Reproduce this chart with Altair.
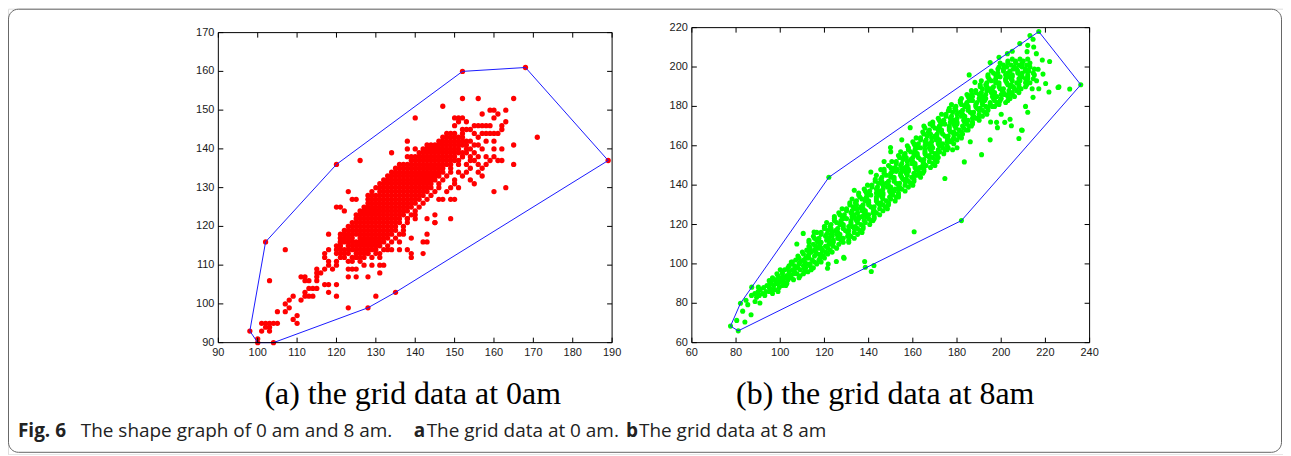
import altair as alt
import pandas as pd

# ---------------- panel (a): grid data at 0 am ----------------
a_ticks_x = [90, 100, 110, 120, 130, 140, 150, 160, 170, 180, 190]
a_ticks_y = [90, 100, 110, 120, 130, 140, 150, 160, 170]

a_core_y = [112, 113, 114, 115, 116, 117, 118, 119, 120, 121, 122, 123, 124, 125, 126, 127,
            128, 129, 130, 131, 132, 133, 134, 135, 136, 137, 138, 139, 140, 141, 142, 143, 144]
a_core_x = [
    [121, 122, 124, 125, 126, 127, 129],
    [120, 121, 122, 123, 125, 126, 127, 128, 130, 131],
    [120, 121, 122, 123, 124, 125, 126, 127, 128, 129, 130, 132],
    [120, 121, 123, 124, 125, 126, 127, 128, 129, 130, 131, 133],
    [121, 122, 123, 124, 125, 126, 127, 128, 129, 130, 131, 132, 134],
    [121, 122, 123, 124, 126, 127, 128, 129, 130, 131, 132, 133, 135],
    [121, 122, 123, 124, 125, 126, 127, 128, 129, 130, 131, 132, 133, 134, 136],
    [122, 123, 124, 125, 126, 127, 128, 129, 130, 131, 132, 133, 134, 135],
    [123, 124, 125, 126, 127, 128, 129, 130, 131, 132, 133, 134, 135, 137],
    [124, 125, 126, 127, 128, 129, 130, 131, 132, 133, 134, 135, 136, 138],
    [125, 126, 127, 128, 129, 130, 131, 132, 133, 134, 135, 136, 138],
    [126, 127, 128, 129, 130, 131, 132, 133, 134, 135, 136, 137, 139, 140],
    [126, 127, 128, 129, 130, 131, 132, 133, 134, 135, 136, 137, 138, 140],
    [127, 128, 129, 130, 131, 132, 133, 134, 135, 136, 137, 138, 139, 141],
    [128, 129, 130, 131, 132, 133, 134, 135, 136, 137, 138, 139, 140, 142],
    [128, 129, 130, 131, 132, 133, 134, 135, 136, 137, 138, 139, 140, 141, 143],
    [129, 130, 131, 132, 133, 134, 135, 136, 137, 138, 139, 140, 141, 142, 144],
    [129, 131, 132, 133, 134, 135, 136, 137, 138, 139, 140, 141, 142, 143, 145],
    [130, 131, 132, 133, 134, 135, 136, 137, 138, 139, 140, 141, 142, 143, 144, 146],
    [131, 132, 133, 134, 135, 136, 137, 138, 139, 140, 141, 142, 143, 144, 146],
    [132, 133, 134, 135, 136, 137, 138, 139, 140, 141, 142, 143, 144, 145, 147],
    [133, 134, 135, 136, 137, 138, 139, 140, 141, 142, 143, 144, 145, 146, 148],
    [134, 135, 136, 137, 138, 139, 140, 141, 142, 143, 144, 145, 146, 147, 149],
    [135, 136, 137, 138, 139, 140, 141, 142, 143, 144, 145, 146, 147, 149],
    [136, 137, 138, 139, 140, 141, 142, 143, 144, 145, 146, 147, 148, 149, 151],
    [139, 140, 141, 142, 143, 144, 145, 146, 147, 148, 149, 150, 151],
    [139, 140, 141, 142, 143, 144, 145, 146, 147, 148, 149, 150, 152],
    [141, 142, 143, 144, 145, 146, 147, 148, 149, 150, 151, 152],
    [142, 143, 144, 145, 146, 147, 148, 149, 150, 151, 153],
    [143, 144, 145, 146, 147, 148, 149, 150, 151, 152, 153, 155],
    [146, 147, 148, 149, 150, 151, 152, 153, 154],
    [147, 148, 149, 150, 151, 152],
    [148, 149, 150, 152],
]
a_extra_x = [98, 100, 104, 101, 102, 103, 104, 105, 101, 103, 100, 102, 103,
             102, 107, 103, 105, 107, 108, 109, 107, 109, 110, 110, 108, 111,
             112, 112, 113, 112, 112, 113, 114, 114, 115, 115, 115, 115,
             117, 118, 118, 117, 118, 118, 117, 118, 118, 119, 120, 120,
             120, 120, 121, 122, 121, 122, 123, 121, 122, 123, 123, 125,
             125, 124, 128, 128, 128, 135, 130, 129, 131, 127, 123,
             111, 113, 115, 116, 117, 121, 123, 124, 125, 126, 128,
             131, 132, 133, 134, 136, 138, 139, 142, 143, 137, 145, 149, 131,
             126, 134, 140, 147, 152, 156, 165, 150, 152, 151, 171, 165, 165, 162, 163, 160,
             157, 159, 160, 161, 163, 163, 162, 160, 158, 155, 154, 156, 159, 160, 161, 157,
             156, 159, 155, 157, 158, 160, 162, 153, 151, 150, 152, 153,
             157, 160, 162, 160, 158, 161, 159, 156, 158, 157, 156, 154, 157, 155, 151, 150,
             155, 154, 156, 158, 154, 153, 154, 153, 152, 150, 149, 148, 147, 149, 150, 146,
             155, 156, 152, 154, 153, 151,
             138, 140, 138, 138, 123, 124, 125, 120, 125,
             138, 140, 143, 145, 145, 137, 139, 143, 142, 139, 136,
             152, 168, 189, 120]
a_extra_y = [93, 90, 90, 95, 95, 95, 95, 95, 93, 93, 91, 94, 94,
             116, 114, 106, 98, 100, 101, 102, 98, 96, 95, 97, 99, 101,
             106, 107, 106, 103, 102, 102, 102, 104, 104, 106, 107, 109,
             105, 103, 105, 109, 110, 111, 113, 114, 118, 109, 110, 111,
             105, 102, 125, 124, 117, 118, 117, 115, 113, 109, 107, 107,
             109, 111, 107, 99, 128, 103, 102, 110, 110, 110, 99,
             107, 104, 108, 108, 112, 116, 111, 109, 112, 111, 113,
             112, 110, 114, 114, 116, 114, 112, 116, 118, 119, 121, 122, 108,
             137, 139, 148, 151, 153, 153, 153, 148, 148, 147, 143, 141, 136, 137, 130, 129,
             149, 150, 150, 149, 150, 147, 146, 148, 146, 146, 145, 143, 144, 142, 144, 146,
             146, 146, 144, 144, 144, 144, 145, 147, 148, 146, 145, 145,
             140, 140, 140, 138, 138, 137, 137, 136, 136, 135, 134, 132, 133, 131, 130, 131,
             139, 138, 141, 142, 140, 136, 135, 134, 133, 132, 130, 129, 127, 127, 127, 127,
             137, 138, 138, 137, 139, 134,
             142, 140, 140, 138, 129, 127, 127, 125, 123,
             122, 122, 122, 121, 123, 118, 117, 116, 113, 113, 114,
             160, 161, 137, 136]
a_hull_x = [100, 104, 128, 135, 189, 168, 152, 120, 102, 98, 100]
a_hull_y = [90, 90, 99, 103, 137, 161, 160, 136, 116, 93, 90]

# ---------------- panel (b): grid data at 8 am ----------------
b_ticks_x = [60, 80, 100, 120, 140, 160, 180, 200, 220, 240]
b_ticks_y = [60, 80, 100, 120, 140, 160, 180, 200, 220]

b_rows_y = [84, 85, 86, 87, 88, 89, 90, 91, 92, 93, 94, 95, 96, 97, 98, 99,
            100, 101, 102, 103, 104, 105, 106, 107, 108, 109, 110, 111, 112, 113, 114, 115,
            116, 117, 118, 119, 120, 121, 122, 123, 124, 125, 126, 127, 128, 129, 130, 131,
            132, 133, 134, 135, 136, 137, 138, 139, 140, 141, 142, 143, 144, 145, 146, 147,
            148, 149, 150, 151, 152, 153, 154, 155, 156, 157, 158, 159, 160, 161, 162, 163,
            164, 165, 166, 167, 168, 169, 170, 171, 172, 173, 174, 175, 176, 177, 178, 179,
            180, 181, 182, 183, 184, 185, 186, 187, 188, 189, 190, 191, 192, 193, 194, 195,
            196, 197, 198, 199, 200, 201, 202, 203, 204]
b_rows_x = [
    [87, 90.5, 93], [88.5, 92, 96.5], [90, 93.5, 95, 99], [91, 96, 97.5],
    [92.5, 95, 99.5], [94, 97, 101, 102.5], [95.5, 98, 103], [96, 100, 101.5],
    [97.5, 99, 103.5, 106], [96.5, 100.5, 102, 105, 108.5], [99, 103, 104.5, 109],
    [98.5, 101, 106, 107.5, 110.5], [101, 104, 106.5, 111, 112.5], [102, 105.5, 109, 114],
    [103.5, 107, 108, 111.5, 115], [104, 106.5, 110.5, 113.5],
    [105, 108.5, 112, 113.5, 116.5], [105.5, 109, 111, 115.5, 118.5], [107, 110.5, 114.5, 117.5],
    [108.5, 111.5, 113, 118, 120], [108, 112.5, 115.5, 119.5], [110.5, 113, 117, 118.5, 121.5],
    [110, 114, 116, 120.5, 123.5], [112, 115.5, 119, 122.5], [113.5, 117, 118.5, 121.5, 125.5],
    [113, 116, 120.5, 124], [115, 118, 122, 123.5, 126.5],
    [113, 117, 118.5, 122.5, 124, 128.5, 131], [113, 116.5, 121, 124, 127.5, 131],
    [115.5, 117.5, 122, 126.5, 128.5, 133.5], [115, 120.5, 123.5, 127, 130.5, 132],
    [118.5, 121, 125.5, 127, 131, 135], [116.5, 118.5, 123.5, 126, 130.5, 133.5, 137],
    [121.5, 125, 129.5, 131, 136], [120, 123, 126, 128.5, 133.5, 135, 137.5],
    [120, 122.5, 128.5, 132.5, 134, 137.5], [123, 127, 128.5, 132, 136.5, 140.5],
    [121, 125.5, 127.5, 132, 135, 138.5], [124.5, 127.5, 132, 134.5, 138, 141, 142],
    [124.5, 128.5, 130, 134, 135.5, 140, 142.5], [124.5, 128, 132.5, 135.5, 139, 142.5],
    [127, 129, 133.5, 138, 140, 145], [126.5, 132, 135, 138.5, 142, 143.5],
    [130, 132.5, 137, 138.5, 142.5, 146.5], [128, 130, 135, 137.5, 142, 145, 148.5],
    [133, 136.5, 141, 142.5, 147.5], [131.5, 134.5, 137.5, 140, 145, 146.5, 149],
    [131.5, 134, 140, 144, 145.5, 149], [134.5, 138.5, 140, 143.5, 148, 152],
    [132.5, 137, 139, 143.5, 146.5, 150], [136, 139, 143.5, 146, 149.5, 152.5, 153.5],
    [135.5, 139.5, 141, 145, 146.5, 151, 153.5], [135.5, 139, 143.5, 146.5, 150, 153.5],
    [138.5, 140.5, 145, 149.5, 151.5, 156.5], [138, 143.5, 146.5, 150, 153.5, 155],
    [141.5, 144, 148.5, 150, 154, 158], [139.5, 141.5, 146.5, 149, 153.5, 156.5, 160],
    [144.5, 148, 152.5, 154, 159], [143, 146, 149, 151.5, 156.5, 158, 160.5],
    [143, 145.5, 151.5, 155.5, 157, 160.5], [146, 150, 151.5, 155, 159.5, 163.5],
    [143.5, 148, 150, 154.5, 157.5, 161], [147, 150, 154.5, 157, 160.5, 163.5, 164.5],
    [147, 151, 152.5, 156.5, 158, 162.5, 165], [147, 150.5, 155, 158, 161.5, 165],
    [150, 152, 156.5, 161, 163, 168], [149, 154.5, 157.5, 161, 164.5, 166],
    [152.5, 155, 159.5, 161, 165, 169], [150.5, 152.5, 157.5, 160, 164.5, 167.5, 171],
    [155.5, 159, 163.5, 165, 170], [154, 157, 160, 162.5, 167.5, 169, 171.5],
    [153.5, 156, 162, 166, 167.5, 171], [156.5, 160.5, 162, 165.5, 170, 174],
    [154.5, 159, 161, 165.5, 168.5, 172], [158, 161, 165.5, 168, 171.5, 174.5, 175.5],
    [158, 162, 163.5, 167.5, 169, 173.5, 176], [157.5, 161, 165.5, 168.5, 172, 175.5],
    [160.5, 162.5, 167, 171.5, 173.5, 178.5], [160, 165.5, 168.5, 172, 175.5, 177],
    [163.5, 166, 170.5, 172, 176, 180], [161.5, 163.5, 168.5, 171, 175.5, 178.5, 182],
    [166.5, 170, 174.5, 176, 181], [165, 168, 171, 173.5, 178.5, 180, 182.5],
    [164.5, 167, 173, 177, 178.5, 182], [167.5, 171.5, 173, 176.5, 181, 185],
    [165.5, 170, 172, 176.5, 179.5, 183], [169, 172, 176.5, 179, 182.5, 185.5, 186.5],
    [169, 173, 174.5, 178.5, 180, 184.5, 187], [169, 172.5, 177, 180, 183.5, 187],
    [172, 174, 178.5, 183, 185, 190], [171.5, 177, 180, 183.5, 187, 188.5],
    [175, 177.5, 182, 183.5, 187.5, 191.5], [173, 175, 180, 182.5, 187, 190, 193.5],
    [178, 181.5, 186, 187.5, 192.5], [176.5, 179.5, 182.5, 185, 190, 191.5, 194],
    [176.5, 179, 185, 189, 190.5, 194], [179.5, 183.5, 185, 188.5, 193, 197],
    [177.5, 182, 184, 188.5, 191.5, 195, 199], [181.5, 184.5, 189, 191.5, 195, 198, 199, 202],
    [181.5, 185.5, 187, 191, 192.5, 197, 199.5, 203], [182, 185.5, 190, 193, 196.5, 200, 204],
    [185, 187, 191.5, 196, 198, 203, 206], [184.5, 190, 193, 196.5, 200, 201.5, 205],
    [188.5, 191, 195.5, 197, 201, 205, 208], [186.5, 188.5, 193.5, 196, 200.5, 203.5, 207],
    [191.5, 195, 199.5, 201, 206, 209], [190.5, 193.5, 196.5, 199, 204, 205.5, 208, 211],
    [190.5, 193, 199, 203, 204.5, 208, 211.5], [193.5, 197.5, 199, 202.5, 207, 211, 213],
    [191, 195.5, 197.5, 202, 205, 208.5, 211.5], [194.5, 197.5, 202, 204.5, 208, 211, 212, 214.5],
    [194, 198, 199.5, 203.5, 205, 209.5, 212], [194, 197.5, 202, 205, 208.5, 212, 215],
    [196.5, 198.5, 203, 207.5, 209.5, 214.5], [195.5, 201, 204, 207.5, 211, 212.5],
    [198.5, 201, 205.5, 207, 211, 215], [199, 202.5, 206, 209.5, 213],
    [201, 204.5, 208, 211.5], [199.5, 203, 206.5, 209.5, 213], [203, 206.5, 210], [205, 208.5, 212],
]
b_extra_x = [77.5, 81, 82, 80.3, 84, 86.8, 85.3, 88.6, 87.1, 90.1, 90.8, 89.3, 83, 84.5, 95, 100,
             122, 182, 236, 217, 185.5, 195, 208.4, 214.4, 211.7, 214.7, 215.9, 218.6, 221.9,
             225.7, 231, 216.7, 218.9, 220.1, 214.4, 209.2, 204.6, 197.9, 201.6, 191.1, 221.6,
             226.1, 208, 209.5, 198.3, 195.2, 174.5, 160.6, 149.9, 158.8, 145.5, 141, 133.5,
             138.2, 138.5, 142.4, 141.2, 128.9, 125.4, 121.4, 110.4, 115.3, 107.5, 110.9, 121.7,
             128.7, 120, 188.1, 186.6, 176.1, 167.8, 183.3, 202.8, 212, 213, 209, 205, 199, 204,
             211, 212, 195, 200, 180, 172, 165, 155, 150, 147, 153, 170, 178, 186, 162, 152, 146,
             140, 134, 128, 123, 118, 113, 105, 103, 99, 112, 119, 126, 131, 137, 144, 150, 157,
             164, 171, 178, 184, 190, 196, 203, 216, 217, 214]
b_extra_y = [68.4, 66, 80, 71.3, 70.5, 74.2, 79.3, 80.9, 88.2, 88.2, 80.1, 83.1, 76, 81.5, 91.5, 97,
             144, 122, 191, 218, 196, 202.3, 211.9, 214.1, 207.8, 210.2, 206.8, 203.6, 202.8,
             189.6, 188.8, 198.9, 196.4, 191.6, 184.6, 168, 170.2, 171.9, 171.9, 155.5, 187.3,
             189.9, 163.7, 167.9, 169.2, 172.1, 143.4, 116.3, 159.1, 169.2, 147.9, 146.7, 137.4,
             101.2, 98.3, 99.2, 96.1, 102.9, 101.2, 97.8, 115.5, 116.2, 110.1, 97.7, 99.9,
             103.3, 118.8, 192.2, 186.2, 177.8, 171.1, 151.8, 206.8, 211, 216, 200.5, 208, 205, 173.5,
             180, 177, 163, 176, 159, 157, 170, 163, 157, 152, 148, 150, 158, 162, 145, 138, 141,
             131, 128, 120, 115, 111, 106, 101, 94, 90, 103, 107, 113, 119, 124, 131, 137, 143,
             149, 156, 163, 168, 175, 180, 186, 193, 189, 189]
b_hull_x = [81, 182, 236, 217, 122, 82, 77.5, 81]
b_hull_y = [66, 122, 191, 218, 144, 80, 68.4, 66]

# ---------------- texts ----------------
cap_a = "(a) the grid data at 0am"
cap_b = "(b) the grid data at 8am"
fig_parts = ["Fig. 6", "The shape graph of 0 am and 8 am.", "a", "The grid data at 0 am.", "b",
             "The grid data at 8 am"]
fig_bold = [True, False, True, False, True, False]
fig_x = [10, 73, 407, 420, 620, 633]

# ---------------- build tables ----------------
a_df = pd.DataFrame(
    [{"x": x, "y": y} for y, xs in zip(a_core_y, a_core_x) for x in xs]
    + [{"x": x, "y": y} for x, y in zip(a_extra_x, a_extra_y)]
)
b_df = pd.DataFrame(
    [{"x": x, "y": y} for y, xs in zip(b_rows_y, b_rows_x) for x in xs]
    + [{"x": x, "y": y} for x, y in zip(b_extra_x, b_extra_y)]
)
a_hull = pd.DataFrame({"x": a_hull_x, "y": a_hull_y, "i": list(range(len(a_hull_x)))})
b_hull = pd.DataFrame({"x": b_hull_x, "y": b_hull_y, "i": list(range(len(b_hull_x)))})
one = pd.DataFrame({"k": [0]})

W, H = 1279, 447
LABEL_FONT = "Liberation Sans"


def panel(df, hull, tx, ty, dom_x, dom_y, px, py, color, dot):
    sx = alt.Scale(domain=dom_x, range=px, nice=False, zero=False)
    sy = alt.Scale(domain=dom_y, range=py, nice=False, zero=False)
    x0, x1 = px
    y0, y1 = py  # y0 bottom pixel, y1 top pixel
    pts = alt.Chart(df).mark_circle(size=dot, color=color, opacity=1).encode(
        x=alt.X("x:Q", scale=sx, axis=None), y=alt.Y("y:Q", scale=sy, axis=None))
    hl = alt.Chart(hull).mark_line(color="#1a1aff", strokeWidth=1).encode(
        x=alt.X("x:Q", scale=sx, axis=None), y=alt.Y("y:Q", scale=sy, axis=None), order="i:Q")
    frame = alt.Chart(one).mark_rect(filled=False, stroke="black", strokeWidth=1).encode(
        x=alt.value(x0), x2=alt.value(x1), y=alt.value(y1), y2=alt.value(y0))
    txd = alt.Chart(pd.DataFrame({"t": tx}))
    tyd = alt.Chart(pd.DataFrame({"t": ty}))
    xt_b = txd.mark_rule(color="black", strokeWidth=1).encode(
        x=alt.X("t:Q", scale=sx, axis=None), y=alt.value(y0), y2=alt.value(y0 - 5))
    xt_t = txd.mark_rule(color="black", strokeWidth=1).encode(
        x=alt.X("t:Q", scale=sx, axis=None), y=alt.value(y1), y2=alt.value(y1 + 5))
    yt_l = tyd.mark_rule(color="black", strokeWidth=1).encode(
        y=alt.Y("t:Q", scale=sy, axis=None), x=alt.value(x0), x2=alt.value(x0 + 5))
    yt_r = tyd.mark_rule(color="black", strokeWidth=1).encode(
        y=alt.Y("t:Q", scale=sy, axis=None), x=alt.value(x1 - 5), x2=alt.value(x1))
    xl = txd.mark_text(font=LABEL_FONT, fontSize=11, baseline="top", align="center",
                       color="#1a1a1a").encode(
        x=alt.X("t:Q", scale=sx, axis=None), y=alt.value(y0 + 4), text="t:Q")
    yl = tyd.mark_text(font=LABEL_FONT, fontSize=11, baseline="middle", align="right",
                       color="#1a1a1a").encode(
        y=alt.Y("t:Q", scale=sy, axis=None), x=alt.value(x0 - 4), text="t:Q")
    return alt.layer(pts, hl, frame, xt_b, xt_t, yt_l, yt_r, xl, yl)


pa = panel(a_df, a_hull, a_ticks_x, a_ticks_y, [90, 190], [90, 170], [211, 606], [335, 24], "#ff0000", 28)
pb = panel(b_df, b_hull, b_ticks_x, b_ticks_y, [60, 240], [60, 220], [686, 1085], [335, 19], "#00ff00", 26)

texts = []
texts.append(alt.Chart(one).mark_text(text=cap_a, font="Liberation Serif", fontSize=32,
                                      align="center", baseline="alphabetic", color="black").encode(
    x=alt.value(406), y=alt.value(397)))
texts.append(alt.Chart(one).mark_text(text=cap_b, font="Liberation Serif", fontSize=32,
                                      align="center", baseline="alphabetic", color="black").encode(
    x=alt.value(880), y=alt.value(397)))
for s, b, xp in zip(fig_parts, fig_bold, fig_x):
    texts.append(alt.Chart(one).mark_text(text=s, font="Open Sans", fontSize=19,
                                          fontWeight="bold" if b else "normal",
                                          align="left", baseline="alphabetic", color="#222").encode(
        x=alt.value(xp), y=alt.value(430)))
border = alt.Chart(one).mark_rect(filled=False, stroke="#666", strokeWidth=1, cornerRadius=10).encode(
    x=alt.value(0.5), x2=alt.value(1277.5), y=alt.value(0.5), y2=alt.value(445))

chart = alt.layer(pa, pb, *texts, border).resolve_scale(
    x="independent", y="independent"
).properties(
    width=W, height=H, padding=0, autosize=alt.AutoSizeParams(type="none")
).configure_view(stroke=None).configure(background="white")

chart.save("out.html", embed_options={"renderer": "svg", "actions": False})
